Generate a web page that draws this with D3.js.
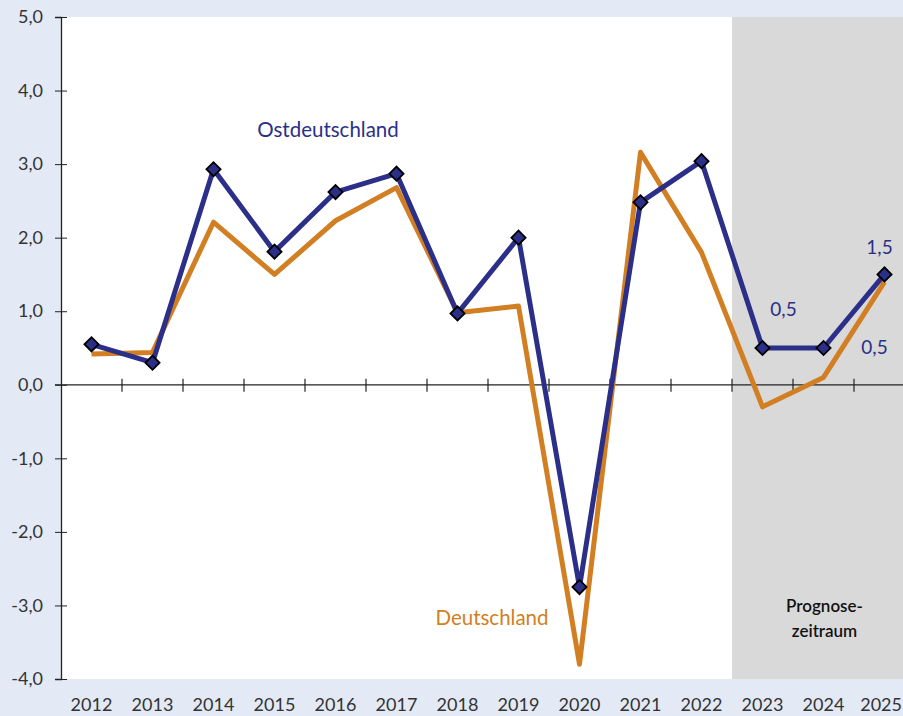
<!DOCTYPE html>
<html>
<head>
<meta charset="utf-8">
<script src="https://cdn.jsdelivr.net/npm/d3@7"></script>
<style>
  body { margin: 0; background: #e3eaf6; }
  svg { display: block; font-family: "Lato", "DejaVu Sans", sans-serif; }
</style>
</head>
<body>
<div id="chart"></div>
<script>
const years = ["2012", "2013", "2014", "2015", "2016", "2017", "2018", "2019", "2020", "2021", "2022", "2023", "2024", "2025"];
const ostdeutschland = [0.55, 0.3, 2.93, 1.81, 2.62, 2.87, 0.97, 2.0, -2.75, 2.48, 3.04, 0.5, 0.5, 1.5];
const deutschland = [0.42, 0.44, 2.21, 1.5, 2.23, 2.68, 0.98, 1.07, -3.8, 3.16, 1.8, -0.3, 0.1, 1.4];
const yTicks = [5, 4, 3, 2, 1, 0, -1, -2, -3, -4];
const forecastYears = ["2023", "2024", "2025"];
const valueLabels = [
    { year: "2023", text: "0,5", dx: 21, dy: -37 },
    { year: "2024", text: "0,5", dx: 51, dy: 1 },
    { year: "2025", text: "1,5", dx: -5, dy: -25 }
];

const navy = "#2b2f88", orange = "#d17f22";

const width = 903, height = 716;
const margin = { top: 17, left: 61, bottom: 37 };

const svg = d3.select("#chart")
    .append("svg")
    .attr("width", width)
    .attr("height", height);

/* X-scale: bands of 61px, last band runs past the window edge */
const x = d3.scaleBand()
    .domain(years)
    .range([margin.left, margin.left + years.length * 61]);

/* Y-scale */
const y = d3.scaleLinear()
    .domain([-4, 5])
    .range([height - margin.bottom, margin.top]);

// plot area
svg.append("rect")
    .attr("x", margin.left)
    .attr("y", y(5))
    .attr("width", width - margin.left)
    .attr("height", y(-4) - y(5))
    .attr("fill", "white");

// forecast shade
svg.append("rect")
    .attr("x", x(forecastYears[0]))
    .attr("y", y(5))
    .attr("width", width - x(forecastYears[0]))
    .attr("height", y(-4) - y(5))
    .attr("fill", "#d9d9d9");

svg.append("text")
    .attr("x", x("2024") + x.bandwidth() / 2 + 1)
    .attr("y", 612)
    .attr("text-anchor", "middle")
    .attr("font-size", 17)
    .attr("font-weight", 600)
    .attr("fill", "#111")
    .text("Prognose-");
svg.append("text")
    .attr("x", x("2024") + x.bandwidth() / 2 + 1)
    .attr("y", 637)
    .attr("text-anchor", "middle")
    .attr("font-size", 17)
    .attr("font-weight", 600)
    .attr("fill", "#111")
    .text("zeitraum");

/* Y-axis */
const yAxis = svg.append("g")
    .attr("transform", `translate(${margin.left}, 0)`)
    .call(d3.axisLeft(y).tickValues(yTicks).tickSize(6)
        .tickFormat(d => d.toFixed(1).replace(".", ",")));
yAxis.select(".domain").attr("stroke", "#222").attr("stroke-width", 1.3);
yAxis.selectAll(".tick line").attr("x2", 6).attr("x1", -6).attr("stroke", "#222");
yAxis.selectAll(".tick text")
    .attr("x", -18)
    .attr("font-size", 18)
    .attr("font-family", "Lato, sans-serif")
    .attr("fill", "#333");

/* X-axis on the zero line */
const xAxis = svg.append("g")
    .attr("transform", `translate(0, ${y(0)})`)
    .call(d3.axisBottom(x).tickSize(0).tickFormat(""));
xAxis.select(".domain").attr("stroke", "#222").attr("stroke-width", 1.2)
    .attr("d", `M${margin.left - 6},0H${width}`);

svg.append("g")
    .selectAll("line")
    .data(years.slice(1))
    .join("line")
    .attr("x1", d => x(d))
    .attr("x2", d => x(d))
    .attr("y1", y(0) - 6)
    .attr("y2", y(0) + 7)
    .attr("stroke", "#222")
    .attr("stroke-width", 1.2);

// year labels along the bottom (the last one is kept inside the window)
svg.append("g")
    .selectAll("text")
    .data(years)
    .join("text")
    .attr("x", (d, i) => i === years.length - 1 ? width - 1 : x(d) + x.bandwidth() / 2)
    .attr("y", 711)
    .attr("text-anchor", (d, i) => i === years.length - 1 ? "end" : "middle")
    .attr("font-size", 18)
    .attr("fill", "#333")
    .text(d => d);

const line = d3.line()
    .x((d, i) => x(years[i]) + x.bandwidth() / 2)
    .y(d => y(d));

svg.append("path")
    .datum(deutschland)
    .attr("d", line)
    .attr("fill", "none")
    .attr("stroke", orange)
    .attr("stroke-width", 5)
    .attr("stroke-linejoin", "round");

svg.append("path")
    .datum(ostdeutschland)
    .attr("d", line)
    .attr("fill", "none")
    .attr("stroke", navy)
    .attr("stroke-width", 5)
    .attr("stroke-linejoin", "round");

svg.append("g")
    .selectAll("path")
    .data(ostdeutschland)
    .join("path")
    .attr("d", d3.symbol(d3.symbolSquare, 100))
    .attr("transform", (d, i) => `translate(${x(years[i]) + x.bandwidth() / 2}, ${y(d)}) rotate(45)`)
    .attr("fill", navy)
    .attr("stroke", "black")
    .attr("stroke-width", 1.8);

svg.append("text")
    .attr("x", 328)
    .attr("y", 137)
    .attr("text-anchor", "middle")
    .attr("font-size", 20.5)
    .attr("fill", navy)
    .text("Ostdeutschland");

svg.append("text")
    .attr("x", 492)
    .attr("y", 625)
    .attr("text-anchor", "middle")
    .attr("font-size", 20.5)
    .attr("fill", orange)
    .text("Deutschland");

svg.append("g")
    .selectAll("text")
    .data(valueLabels)
    .join("text")
    .attr("x", d => x(d.year) + x.bandwidth() / 2 + d.dx)
    .attr("y", d => y(ostdeutschland[years.indexOf(d.year)]) + d.dy)
    .attr("text-anchor", "middle")
    .attr("dominant-baseline", "middle")
    .attr("font-size", 19)
    .attr("fill", navy)
    .text(d => d.text);
</script>
</body>
</html>
